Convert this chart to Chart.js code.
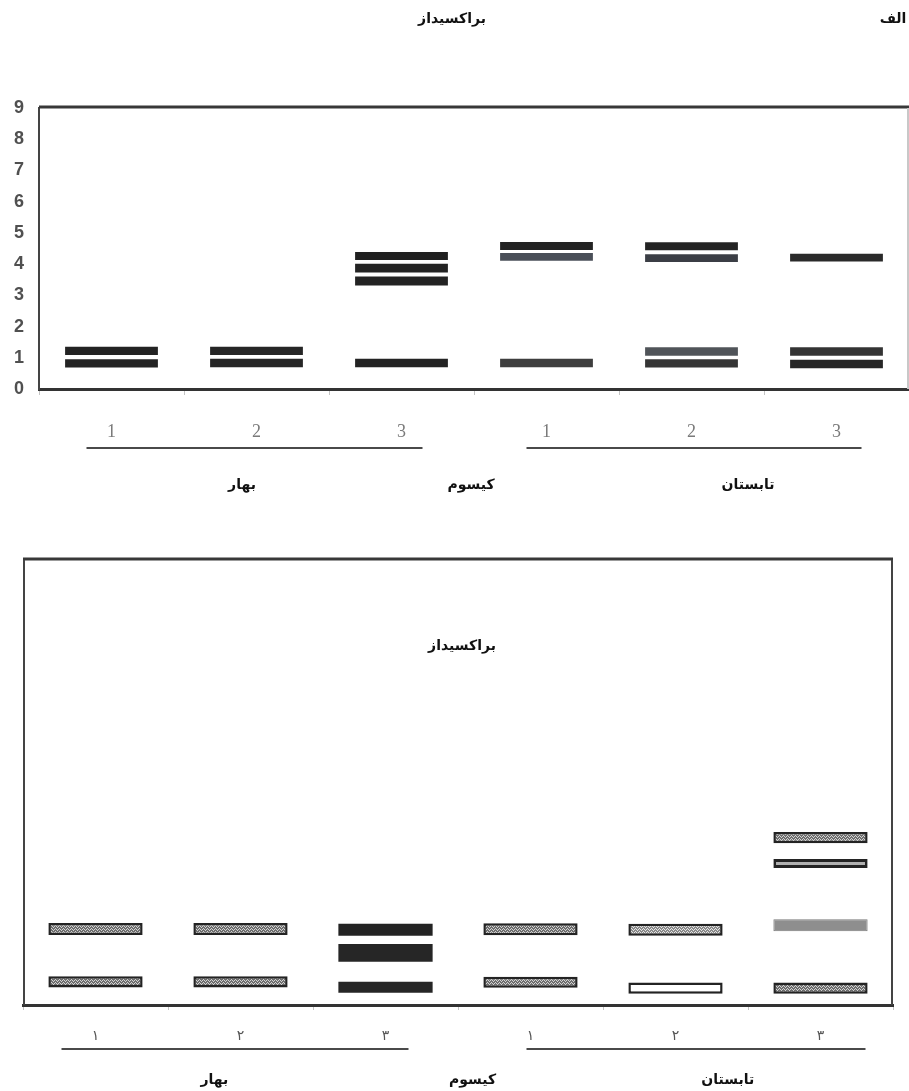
<!DOCTYPE html>
<html>
<head>
<meta charset="utf-8">
<script src="https://cdn.jsdelivr.net/npm/chart.js@4.4.0/dist/chart.umd.min.js"></script>
<style>
  body { margin: 0; background: #fff; width: 909px; height: 1091px; overflow: hidden; position: relative; }
  #caja1 { position: absolute; left: 0; top: 0; width: 909px; height: 520px; }
  #caja2 { position: absolute; left: 0; top: 530px; width: 909px; height: 561px; }
</style>
</head>
<body>
<div id="caja1"><canvas id="grafica1"></canvas></div>
<div id="caja2"><canvas id="grafica2"></canvas></div>
<script>
// lanes and groups
const laneLabels = ['1', '2', '3', '1', '2', '3'];
const laneLabelsFa = ['۱', '۲', '۳', '۱', '۲', '۳'];
const seasonNames = ['بهار', 'کیسوم', 'تابستان'];
const chartTitle = 'براکسیداز';
const panelTag = 'الف';
const yTicks = [0, 1, 2, 3, 4, 5, 6, 7, 8, 9];

// panel 1: band positions on the 0-9 scale (null = no band in that lane)
const topBandA = [null, null, null, 4.58, 4.57, null];
const topBandB = [null, null, 4.26, 4.23, 4.19, 4.21];
const topBandC = [null, null, 3.87, null, null, null];
const topBandD = [null, null, 3.46, null, null, null];
const topBandE = [1.22, 1.22, null, null, 1.20, 1.20];
const topBandF = [0.82, 0.83, 0.83, 0.83, 0.82, 0.80];

// panel 2: band positions (no scale printed, 0-10 used)
const lowBandA = [null, null, null, null, null, 3.76];
const lowBandB = [null, null, null, null, null, 3.18];
const lowBandC = [1.71, 1.71, 1.69, 1.70, 1.69, 1.79];
const lowBandD = [null, null, 1.17, null, null, null];
const lowBandE = [0.52, 0.52, 0.40, 0.51, 0.38, 0.38];

const fontFa = '"DejaVu Sans", sans-serif';

function toBand(arr, h) {
    return arr.map(v => v === null ? null : [v - h / 2, v + h / 2]);
}

function stipple(base, dot) {
    const c = document.createElement('canvas');
    c.width = 4; c.height = 3;
    const g = c.getContext('2d');
    g.fillStyle = base; g.fillRect(0, 0, 4, 3);
    g.fillStyle = dot;
    g.fillRect(0, 0, 1, 1); g.fillRect(2, 0, 1, 1);
    g.fillRect(1, 1, 1, 1); g.fillRect(3, 2, 1, 1);
    return g.createPattern(c, 'repeat');
}

const dark = '#232323';
const dots = stipple('#6e6e6e', '#d2d2d2');
const dotsLight = stipple('#8a8a8a', '#e6e6e6');

function band(data, h, bg, bc, bw) {
    return {
        data: toBand(data, h),
        backgroundColor: bg,
        borderColor: bc || dark,
        borderWidth: bw || 0,
        borderSkipped: false,
        grouped: false
    };
}

// frame, group lines and captions drawn round the plot
function extras(cfg) {
    return {
        id: 'extras',
        afterDraw(chart) {
            const ctx = chart.ctx, x = chart.scales.x, a = chart.chartArea;
            const lane = i => x.getPixelForValue(i);
            ctx.save();
            ctx.lineCap = 'butt';
            // top edge
            ctx.strokeStyle = '#383838';
            ctx.lineWidth = cfg.topW;
            ctx.beginPath(); ctx.moveTo(a.left, a.top - 1); ctx.lineTo(a.right, a.top - 1); ctx.stroke();
            // right edge
            ctx.strokeStyle = cfg.rightColor;
            ctx.lineWidth = 2;
            ctx.beginPath(); ctx.moveTo(a.right - 1, a.top); ctx.lineTo(a.right - 1, a.bottom); ctx.stroke();
            if (cfg.leftEdge) {
                ctx.strokeStyle = '#444';
                ctx.beginPath(); ctx.moveTo(a.left + 1, a.top); ctx.lineTo(a.left + 1, a.bottom); ctx.stroke();
            }
            // group lines
            ctx.strokeStyle = '#4a4a4a';
            ctx.lineWidth = 2;
            cfg.lines.forEach(l => {
                ctx.beginPath();
                ctx.moveTo(lane(l[0]) + l[1], cfg.lineY);
                ctx.lineTo(lane(l[2]) + l[3], cfg.lineY);
                ctx.stroke();
            });
            // season names
            ctx.fillStyle = '#111';
            ctx.font = 'bold 14px ' + fontFa;
            ctx.textAlign = 'center';
            ctx.textBaseline = 'middle';
            seasonNames.forEach((s, i) => ctx.fillText(s, x.getPixelForValue(0) + cfg.seasonAt[i] * (lane(1) - lane(0)), cfg.seasonY));
            // titles
            cfg.titles.forEach(t => ctx.fillText(t[0], t[1], t[2]));
            ctx.restore();
        }
    };
}

function grafica(id, datasets, opts) {
    return new Chart(document.querySelector(id), {
        type: 'bar',
        data: { labels: opts.labels, datasets: datasets },
        options: {
            responsive: true,
            maintainAspectRatio: false,
            animation: false,
            layout: { padding: opts.padding },
            datasets: { bar: { categoryPercentage: 1, barPercentage: opts.barPct } },
            plugins: { legend: { display: false }, tooltip: { enabled: false } },
            scales: {
                x: {
                    offset: true,
                    grid: { drawOnChartArea: false, drawTicks: true, tickLength: opts.tickLen, color: '#c4c4c4', offset: true },
                    border: { display: true, color: '#333', width: 3 },
                    ticks: { color: opts.xColor, font: opts.xFont, padding: opts.xPad, maxRotation: 0 },
                    afterFit: s => { s.height = opts.xHeight; }
                },
                y: opts.y
            }
        },
        plugins: [extras(opts.extras)]
    });
}

// panel 1
grafica('#grafica1', [
    band(topBandA, 0.26, dark),
    band(topBandB, 0.25, [dark, dark, '#202020', '#4a4f58', '#3b3e45', '#2a2a2a']),
    band(topBandC, 0.28, dark),
    band(topBandD, 0.29, dark),
    band(topBandE, 0.27, [dark, '#262626', dark, dark, '#505459', '#343434']),
    band(topBandF, 0.27, [dark, '#262626', dark, '#3e3e3e', '#353535', '#262626'])
], {
    labels: laneLabels,
    padding: { top: 108, left: 0, right: 0, bottom: 0 },
    barPct: 0.64,
    tickLen: 6,
    xColor: '#7a7a7a',
    xFont: { family: '"Liberation Serif", serif', size: 18 },
    xPad: 26,
    xHeight: 131,
    y: {
        min: 0, max: 9,
        afterBuildTicks: s => { s.ticks = yTicks.map(v => ({ value: v })); },
        grid: { display: false, drawTicks: false },
        border: { display: true, color: '#444', width: 2 },
        ticks: { color: '#505050', font: { family: '"Liberation Sans", Arial, sans-serif', size: 18, weight: 'bold' }, padding: 15 },
        afterFit: s => { s.width = 39; }
    },
    extras: {
        topW: 3,
        rightColor: '#c8c8c8',
        leftEdge: false,
        lineY: 448,
        lines: [[0, -25, 2, 21], [3, -20, 5, 25]],
        seasonY: 485,
        seasonAt: [0.9, 2.48, 4.39],
        titles: [[chartTitle, 452, 19], [panelTag, 893, 19]]
    }
});

// panel 2
grafica('#grafica2', [
    band(lowBandA, 0.25, dots, dark, 2.5),
    band(lowBandB, 0.2, '#b0b0b0', dark, 3),
    band(lowBandC, 0.27, [dots, dots, dark, dots, dotsLight, '#8e8e8e'], [dark, dark, dark, dark, dark, '#7a7a7a'], [2.5, 2.5, 0, 2.5, 2.5, 1]),
    band(lowBandD, 0.40, '#262626'),
    band(lowBandE, 0.25, [dots, dots, '#262626', dots, '#ffffff', dots], dark, [2.5, 2.5, 0, 2.5, 2.5, 2.5])
], {
    labels: laneLabelsFa,
    padding: { top: 30, left: 23, right: 16, bottom: 0 },
    barPct: 0.65,
    tickLen: 5,
    xColor: '#555',
    xFont: { family: fontFa, size: 14 },
    xPad: 18,
    xHeight: 86,
    y: { min: 0, max: 10, display: false },
    extras: {
        topW: 3,
        rightColor: '#444',
        leftEdge: true,
        lineY: 519,
        lines: [[0, -34, 2, 23], [3, -4, 5, 45]],
        seasonY: 550,
        seasonAt: [0.82, 2.6, 4.36],
        titles: [[chartTitle, 462, 116]]
    }
});
</script>
</body>
</html>
